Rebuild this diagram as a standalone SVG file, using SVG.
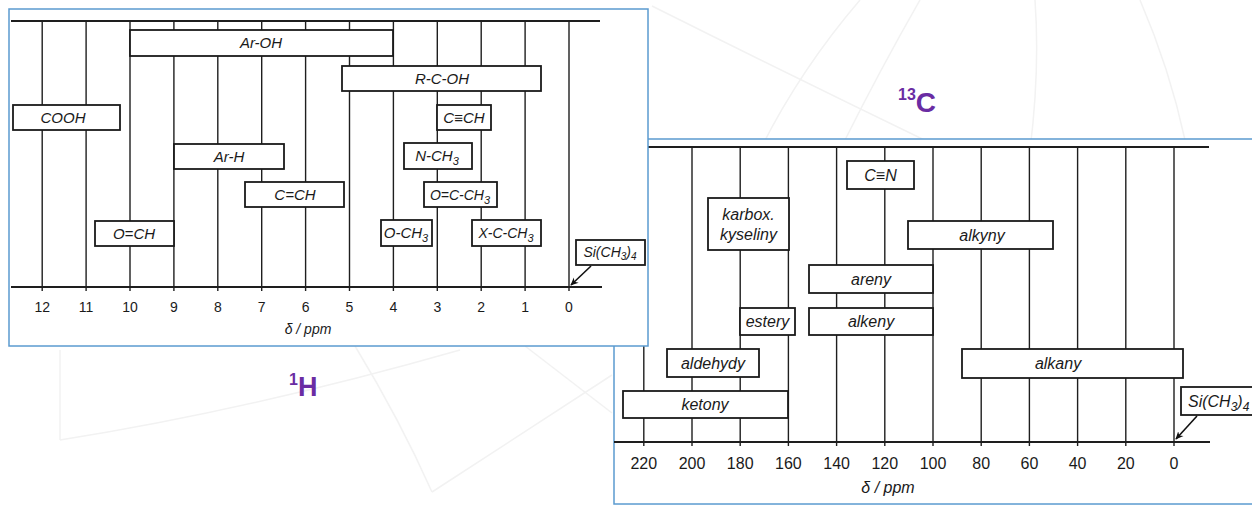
<svg xmlns="http://www.w3.org/2000/svg" width="1252" height="513" viewBox="0 0 1252 513">
<defs>
<marker id="ah" viewBox="0 0 10 10" refX="9" refY="5" markerWidth="8" markerHeight="8" orient="auto" markerUnits="userSpaceOnUse">
<path d="M0,0.5 L10,5 L0,9.5 L3,5 z" fill="#111"/>
</marker>
<style>
.bg{fill:none;stroke:#f2f2f2;stroke-width:1.5}
.panel{fill:#fff;stroke:#5b9bd0;stroke-width:1.5}
.grid{stroke:#1e1e1e;stroke-width:1.4}
.axis{stroke:#1e1e1e;stroke-width:2}
.box{fill:#fff;stroke:#1a1a1a;stroke-width:1.8}
.lbl{font-family:"Liberation Sans",Arial,sans-serif;font-style:italic;fill:#1a1a1a;text-anchor:middle}
.l1{font-size:15px}
.l2{font-size:16px}
.tick{font-family:"Liberation Sans",Arial,sans-serif;fill:#1a1a1a;text-anchor:middle}
.t1{font-size:14px}
.t2{font-size:16px}
.nuc{font-family:"Liberation Sans",Arial,sans-serif;font-weight:bold;fill:#6a2ca3}
.arr{stroke:#111;stroke-width:1.6;fill:none}
</style>
</defs>
<rect width="1252" height="513" fill="#fff"/>
<g id="background">
<path class="bg" d="M652,6 Q800,80 945,150"/>
<path class="bg" d="M760,150 Q800,70 860,0"/>
<path class="bg" d="M1030,150 Q1040,70 1035,0"/>
<path class="bg" d="M1140,0 Q1170,70 1185,140"/>
<path class="bg" d="M920,0 Q880,70 845,140"/>
<path class="bg" d="M60,440 L60,350"/>
<path class="bg" d="M60,440 Q250,410 460,350"/>
<path class="bg" d="M355,346 Q400,420 432,492"/>
<path class="bg" d="M432,492 L612,375"/>
<path class="bg" d="M525,346 L612,413"/>
</g>
<g id="panel-13C">
<rect class="panel" x="614" y="139" width="660" height="365"/>
<g id="grid-13C">
<line class="axis" x1="620" y1="147" x2="1209" y2="147"/>
<line class="axis" x1="614" y1="442" x2="1210" y2="442"/>
<line class="grid" x1="643.8" y1="147" x2="643.8" y2="446"/>
<line class="grid" x1="692" y1="147" x2="692" y2="446"/>
<line class="grid" x1="740.2" y1="147" x2="740.2" y2="446"/>
<line class="grid" x1="788.4" y1="147" x2="788.4" y2="446"/>
<line class="grid" x1="836.6" y1="147" x2="836.6" y2="446"/>
<line class="grid" x1="884.8" y1="147" x2="884.8" y2="446"/>
<line class="grid" x1="933" y1="147" x2="933" y2="446"/>
<line class="grid" x1="981.2" y1="147" x2="981.2" y2="446"/>
<line class="grid" x1="1029.4" y1="147" x2="1029.4" y2="446"/>
<line class="grid" x1="1077.6" y1="147" x2="1077.6" y2="446"/>
<line class="grid" x1="1125.8" y1="147" x2="1125.8" y2="446"/>
<line class="grid" x1="1174" y1="147" x2="1174" y2="446"/>
</g>
<g id="ticks-13C">
<text class="tick t2" x="643.8" y="469">220</text>
<text class="tick t2" x="692" y="469">200</text>
<text class="tick t2" x="740.2" y="469">180</text>
<text class="tick t2" x="788.4" y="469">160</text>
<text class="tick t2" x="836.6" y="469">140</text>
<text class="tick t2" x="884.8" y="469">120</text>
<text class="tick t2" x="933" y="469">100</text>
<text class="tick t2" x="981.2" y="469">80</text>
<text class="tick t2" x="1029.4" y="469">60</text>
<text class="tick t2" x="1077.6" y="469">40</text>
<text class="tick t2" x="1125.8" y="469">20</text>
<text class="tick t2" x="1174" y="469">0</text>
<text class="lbl l2" x="888" y="493">δ / ppm</text>
</g>
<g id="c-CN"><rect class="box" x="847" y="161" width="67" height="28"/><text class="lbl l2" x="880.5" y="181">C≡N</text></g>
<g id="c-karbox"><rect class="box" x="708" y="198" width="81" height="52"/><text class="lbl l2" x="748.5" y="220">karbox.</text><text class="lbl l2" x="748.5" y="240">kyseliny</text></g>
<g id="c-alkyny"><rect class="box" x="908" y="221" width="145" height="28"/><text class="lbl l2" x="982" y="241">alkyny</text></g>
<g id="c-areny"><rect class="box" x="809" y="265" width="124" height="28"/><text class="lbl l2" x="871" y="285">areny</text></g>
<g id="c-estery"><rect class="box" x="740" y="308" width="55" height="27"/><text class="lbl l2" x="767.5" y="327">estery</text></g>
<g id="c-alkeny"><rect class="box" x="809" y="308" width="124" height="27"/><text class="lbl l2" x="871" y="327">alkeny</text></g>
<g id="c-aldehydy"><rect class="box" x="667" y="349" width="92" height="28"/><text class="lbl l2" x="713" y="369">aldehydy</text></g>
<g id="c-alkany"><rect class="box" x="962" y="349" width="221" height="29"/><text class="lbl l2" x="1058" y="369">alkany</text></g>
<g id="c-ketony"><rect class="box" x="623" y="391" width="165" height="27"/><text class="lbl l2" x="705" y="410">ketony</text></g>
<g id="c-tms"><rect class="box" x="1181" y="387" width="90" height="28"/><text class="lbl l2" x="1188" y="407" style="text-anchor:start">Si(CH<tspan font-size="12" dy="4">3</tspan><tspan dy="-4">)</tspan><tspan font-size="12" dy="4">4</tspan></text></g>
</g>
<g id="panel-1H">
<rect class="panel" x="9" y="9" width="639" height="337"/>
<g id="grid-1H">
<line class="axis" x1="11" y1="21" x2="600" y2="21"/>
<line class="axis" x1="11" y1="287" x2="602" y2="287"/>
<line class="grid" x1="42.2" y1="21" x2="42.2" y2="291"/>
<line class="grid" x1="86.1" y1="21" x2="86.1" y2="291"/>
<line class="grid" x1="130" y1="21" x2="130" y2="291"/>
<line class="grid" x1="173.9" y1="21" x2="173.9" y2="291"/>
<line class="grid" x1="217.8" y1="21" x2="217.8" y2="291"/>
<line class="grid" x1="261.7" y1="21" x2="261.7" y2="291"/>
<line class="grid" x1="305.6" y1="21" x2="305.6" y2="291"/>
<line class="grid" x1="349.5" y1="21" x2="349.5" y2="291"/>
<line class="grid" x1="393.4" y1="21" x2="393.4" y2="291"/>
<line class="grid" x1="437.3" y1="21" x2="437.3" y2="291"/>
<line class="grid" x1="481.2" y1="21" x2="481.2" y2="291"/>
<line class="grid" x1="525.1" y1="21" x2="525.1" y2="291"/>
<line class="grid" x1="569" y1="21" x2="569" y2="291"/>
</g>
<g id="ticks-1H">
<text class="tick t1" x="42.2" y="312">12</text>
<text class="tick t1" x="86.1" y="312">11</text>
<text class="tick t1" x="130" y="312">10</text>
<text class="tick t1" x="173.9" y="312">9</text>
<text class="tick t1" x="217.8" y="312">8</text>
<text class="tick t1" x="261.7" y="312">7</text>
<text class="tick t1" x="305.6" y="312">6</text>
<text class="tick t1" x="349.5" y="312">5</text>
<text class="tick t1" x="393.4" y="312">4</text>
<text class="tick t1" x="437.3" y="312">3</text>
<text class="tick t1" x="481.2" y="312">2</text>
<text class="tick t1" x="525.1" y="312">1</text>
<text class="tick t1" x="569" y="312">0</text>
<text class="lbl" font-size="14" x="308" y="334">δ / ppm</text>
</g>
<g id="h-ArOH"><rect class="box" x="130" y="30" width="263" height="26"/><text class="lbl l1" x="261" y="48">Ar-OH</text></g>
<g id="h-RCOH"><rect class="box" x="342" y="66" width="199" height="25"/><text class="lbl l1" x="442" y="84">R-C-OH</text></g>
<g id="h-COOH"><rect class="box" x="13" y="105" width="107" height="25"/><text class="lbl l1" x="63" y="123">COOH</text></g>
<g id="h-CCH"><rect class="box" x="437" y="105" width="54" height="25"/><text class="lbl l1" x="464" y="123">C≡CH</text></g>
<g id="h-ArH"><rect class="box" x="174" y="144" width="110" height="25"/><text class="lbl l1" x="229" y="162">Ar-H</text></g>
<g id="h-NCH3"><rect class="box" x="404" y="143" width="68" height="26"/><text class="lbl l1" x="437" y="161">N-CH<tspan font-size="11" dy="4">3</tspan></text></g>
<g id="h-CCH2"><rect class="box" x="245" y="182" width="99" height="25"/><text class="lbl l1" x="295" y="200">C=CH</text></g>
<g id="h-OCCH3"><rect class="box" x="424" y="182" width="73" height="25"/><text class="lbl" font-size="14" x="460" y="200">O=C-CH<tspan font-size="11" dy="4">3</tspan></text></g>
<g id="h-OCH"><rect class="box" x="95" y="221" width="79" height="25"/><text class="lbl l1" x="134" y="239">O=CH</text></g>
<g id="h-OCH3"><rect class="box" x="381" y="220" width="51" height="26"/><text class="lbl l1" x="406" y="238">O-CH<tspan font-size="11" dy="4">3</tspan></text></g>
<g id="h-XCCH3"><rect class="box" x="472" y="220" width="69" height="26"/><text class="lbl" font-size="14" x="506" y="238">X-C-CH<tspan font-size="11" dy="4">3</tspan></text></g>
<g id="h-tms"><rect class="box" x="576" y="240" width="69" height="25"/><text class="lbl" font-size="14" x="610" y="257">Si(CH<tspan font-size="10" dy="3">3</tspan><tspan dy="-3">)</tspan><tspan font-size="10" dy="3">4</tspan></text></g>
</g>
<g id="connectors">
<line class="arr" x1="591" y1="266" x2="571" y2="285" marker-end="url(#ah)"/>
<line class="arr" x1="1197" y1="416" x2="1176" y2="439" marker-end="url(#ah)"/>
</g>
<g id="label-1H"><text class="nuc" x="289" y="396" font-size="27"><tspan font-size="16" dy="-11">1</tspan><tspan dy="11">H</tspan></text></g>
<g id="label-13C"><text class="nuc" x="898" y="112" font-size="28"><tspan font-size="16" dy="-12">13</tspan><tspan dy="12">C</tspan></text></g>
</svg>
